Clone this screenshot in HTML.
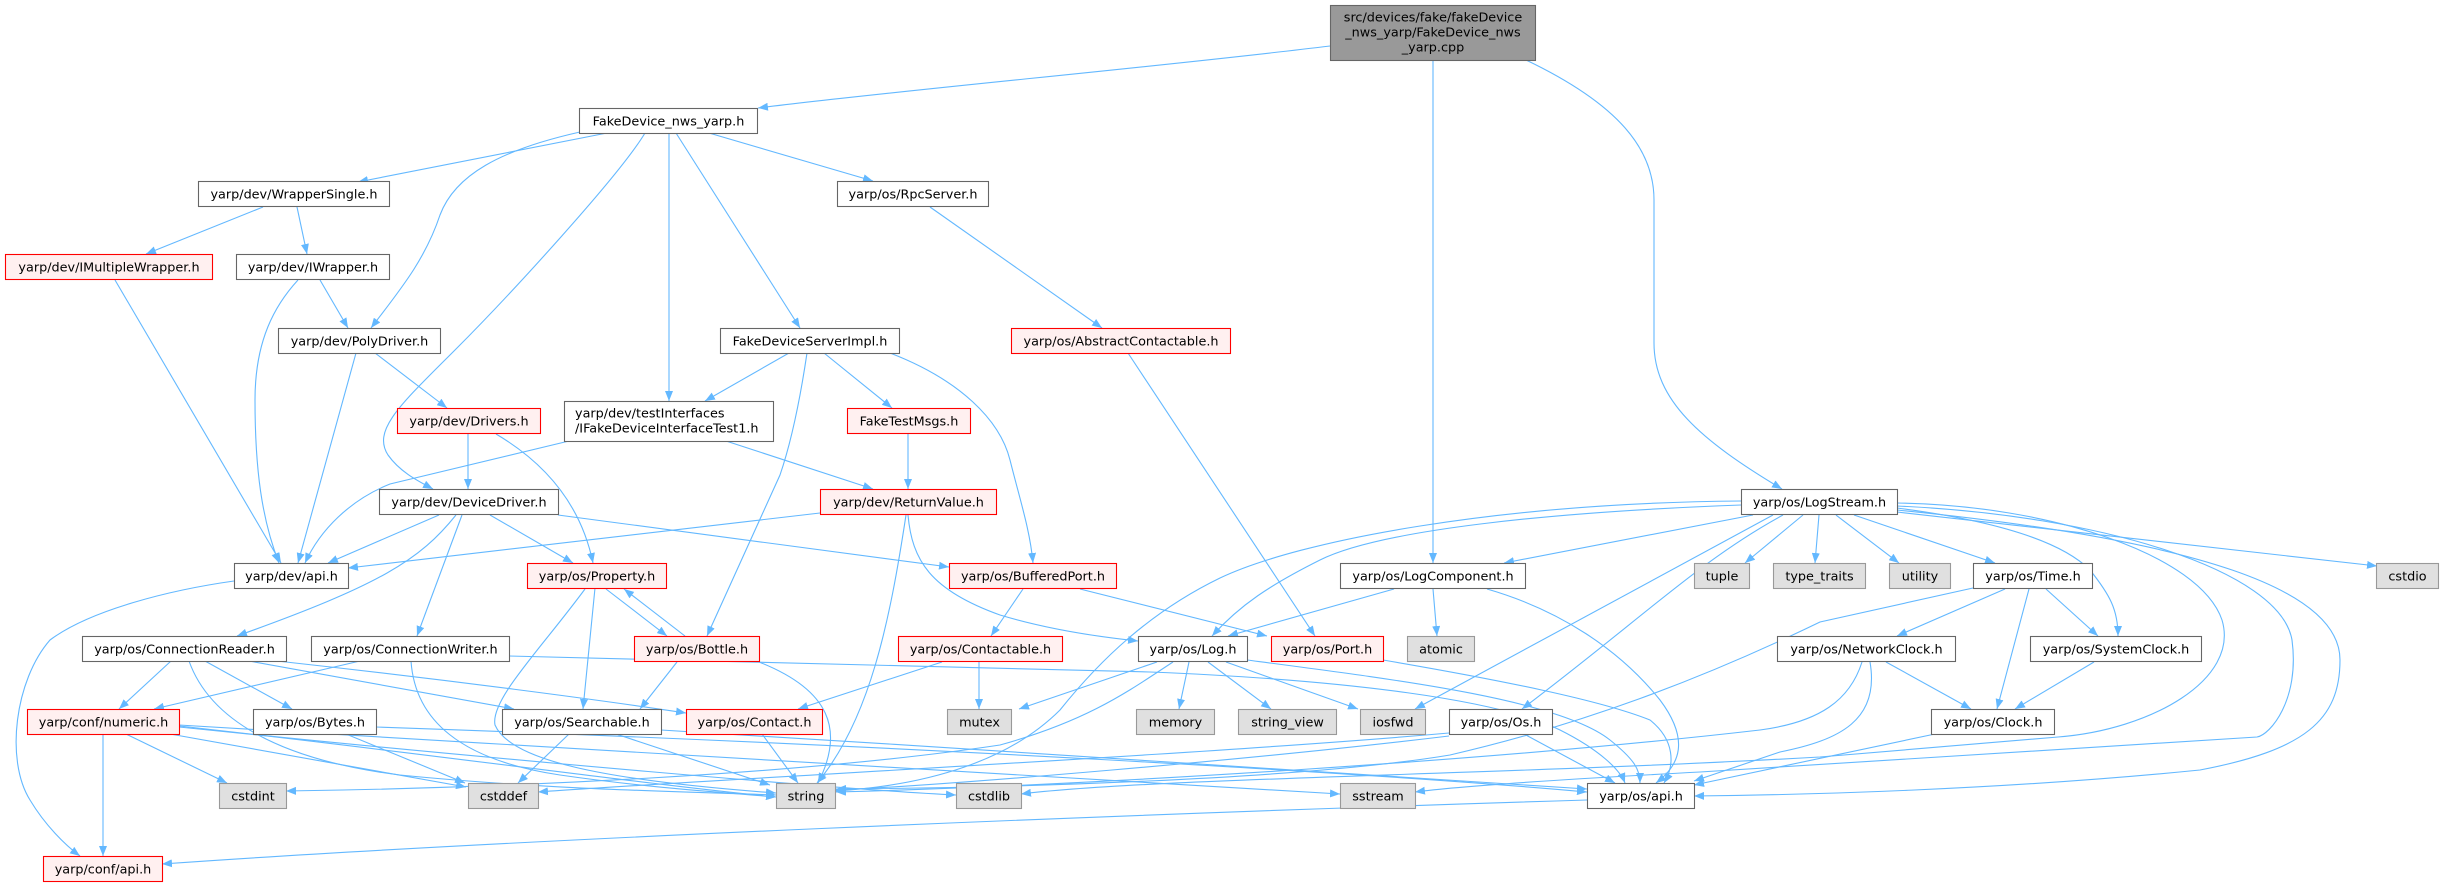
<!DOCTYPE html>
<html><head><meta charset="utf-8">
<style>
html,body{margin:0;padding:0;background:#fff;}
svg{display:block;}
.e{fill:none;stroke:#63b8ff;stroke-width:1.1;marker-end:url(#a);}
.n{fill:#fff;stroke:#666;stroke-width:1.1;}
.r{fill:#fff0f0;stroke:#f00;stroke-width:1.1;}
.g{fill:#e0e0e0;stroke:#999;stroke-width:1.1;}
.t{fill:#999;stroke:#666;stroke-width:1.1;}
text{font-family:"DejaVu Sans","Liberation Sans",sans-serif;font-size:12.8px;fill:#000;text-anchor:middle;}
text.l{text-anchor:start;}
</style></head>
<body>
<svg width="2443" height="887" viewBox="0 0 2443 887" xmlns="http://www.w3.org/2000/svg">
<defs>
<marker id="a" viewBox="0 0 10 8" refX="10" refY="4" markerWidth="10" markerHeight="8" markerUnits="userSpaceOnUse" orient="auto"><path d="M0,0 L10,4 L0,8 z" fill="#63b8ff"/></marker>
</defs>
<g>
<path class="e" d="M1330,46 C1150,68 900,90 758,108"/>
<path class="e" d="M1433,60 V563"/>
<path class="e" d="M1526,60 C1620,105 1654,150 1654,200 L1654,343 C1654,400 1700,440 1782,489"/>
<path class="e" d="M607,133 L358,182"/>
<path class="e" d="M580,132 C500,150 455,175 440,215 C425,260 400,290 371,328"/>
<path class="e" d="M645,133 C620,175 510,295 455,350 C400,405 372,430 388,455 C400,472 418,481 433,489"/>
<path class="e" d="M669,133 V401"/>
<path class="e" d="M676,133 L800,328"/>
<path class="e" d="M709,133 L873,181"/>
<path class="e" d="M263,207 L146,254"/>
<path class="e" d="M297,207 L307,254"/>
<path class="e" d="M930,207 L1102,328"/>
<path class="e" d="M115,280 L281,563"/>
<path class="e" d="M320,280 L348,328"/>
<path class="e" d="M298,280 C275,305 255,340 255,400 C255,470 262,520 279,563"/>
<path class="e" d="M356,353 L298,563"/>
<path class="e" d="M375,353 L447,408"/>
<path class="e" d="M789,353 L705,401"/>
<path class="e" d="M824,353 L892,408"/>
<path class="e" d="M807,353 C800,400 792,440 780,475 L707,636"/>
<path class="e" d="M890,353 C960,380 1000,420 1010,460 C1020,500 1030,530 1033,563"/>
<path class="e" d="M1128,353 L1315,636"/>
<path class="e" d="M468,434 V489"/>
<path class="e" d="M496,434 C540,460 580,500 593,563"/>
<path class="e" d="M569,441 L390,484 C350,500 320,530 305,563"/>
<path class="e" d="M726,441 L873,489"/>
<path class="e" d="M908,434 V489"/>
<path class="e" d="M439,515 L328,563"/>
<path class="e" d="M490,515 L573,563"/>
<path class="e" d="M456,515 C420,560 380,585 237,636"/>
<path class="e" d="M462,515 L417,636"/>
<path class="e" d="M558,515 L949,567"/>
<path class="e" d="M820,513 L348,568"/>
<path class="e" d="M906,515 C890,620 870,720 817,783"/>
<path class="e" d="M908,515 C912,560 930,590 1000,615 C1050,630 1100,637 1138,641"/>
<path class="e" d="M1753,515 L1504,563"/>
<path class="e" d="M1741,505 C1550,512 1380,530 1320,560 C1270,585 1240,605 1212,636"/>
<path class="e" d="M1741,501 C1500,503 1300,540 1220,578 C1150,612 1100,660 1060,710 C1010,760 930,785 836,791"/>
<path class="e" d="M1803,515 L1745,563"/>
<path class="e" d="M1819,515 L1815,563"/>
<path class="e" d="M1836,515 L1899,563"/>
<path class="e" d="M1854,515 L1995,563"/>
<path class="e" d="M1897,508 C1990,520 2060,540 2090,570 C2110,595 2118,610 2118,636"/>
<path class="e" d="M1897,512 L2377,566"/>
<path class="e" d="M1773,515 L1415,709"/>
<path class="e" d="M1783,515 C1700,560 1640,620 1522,709"/>
<path class="e" d="M1897,503 C2050,505 2200,555 2222,620 C2240,680 2150,730 2058,737 L1820,757 C1500,775 1150,778 1021,794"/>
<path class="e" d="M1897,506 C2100,515 2280,570 2292,640 C2300,700 2270,735 2257,737 L1700,772 C1550,780 1460,786 1415,792"/>
<path class="e" d="M1897,510 C2200,540 2340,590 2340,660 C2340,720 2305,750 2200,770 C2000,790 1800,795 1694,796"/>
<path class="e" d="M234,581 C170,590 90,610 50,640 C15,680 5,760 30,800 C45,825 65,845 80,856"/>
<path class="e" d="M595,588 L583,709"/>
<path class="e" d="M606,589 L667,636"/>
<path class="e" d="M685,636 L624,589"/>
<path class="e" d="M585,589 C540,650 490,700 495,725 C510,760 600,780 776,793"/>
<path class="e" d="M1023,589 L991,636"/>
<path class="e" d="M1080,589 L1267,636"/>
<path class="e" d="M1394,589 L1228,636"/>
<path class="e" d="M1433,589 L1437,636"/>
<path class="e" d="M1487,589 C1560,610 1620,650 1660,700 C1690,740 1680,765 1656,783"/>
<path class="e" d="M2005,589 L1897,636"/>
<path class="e" d="M2046,589 L2098,636"/>
<path class="e" d="M2029,589 L1997,709"/>
<path class="e" d="M1973,588 L1820,622 C1700,680 1580,725 1450,755 C1300,780 1000,788 836,789"/>
<path class="e" d="M171,661 L119,709"/>
<path class="e" d="M205,661 L292,709"/>
<path class="e" d="M249,661 L514,709"/>
<path class="e" d="M277,661 C450,680 600,700 686,713"/>
<path class="e" d="M189,661 C210,720 280,760 400,775 C550,790 700,792 776,795"/>
<path class="e" d="M360,661 L154,709"/>
<path class="e" d="M411,661 C415,720 460,760 560,775 C650,788 720,792 776,797"/>
<path class="e" d="M509,656 L1150,672 C1350,680 1500,700 1560,730 C1600,750 1620,770 1625,783"/>
<path class="e" d="M677,662 L640,709"/>
<path class="e" d="M759,662 C830,690 845,730 818,783"/>
<path class="e" d="M942,662 L798,709"/>
<path class="e" d="M979,662 V709"/>
<path class="e" d="M1157,662 L1019,709"/>
<path class="e" d="M1189,662 L1179,709"/>
<path class="e" d="M1208,662 L1271,709"/>
<path class="e" d="M1226,662 L1358,709"/>
<path class="e" d="M1173,662 C1130,690 1090,720 1000,745 C800,775 500,788 286,791"/>
<path class="e" d="M1247,660 C1400,680 1560,700 1610,740 C1635,760 1640,770 1640,783"/>
<path class="e" d="M1383,660 C1500,680 1600,700 1650,720 C1675,740 1675,765 1664,783"/>
<path class="e" d="M1886,662 L1971,709"/>
<path class="e" d="M1870,662 C1880,720 1840,740 1780,752 L1694,781"/>
<path class="e" d="M1862,662 C1850,700 1820,722 1760,730 C1500,760 1100,785 836,792"/>
<path class="e" d="M2094,662 L2015,709"/>
<path class="e" d="M103,734 V856"/>
<path class="e" d="M126,734 L227,783"/>
<path class="e" d="M170,734 L466,787"/>
<path class="e" d="M179,726 C400,750 650,785 776,797"/>
<path class="e" d="M179,727 C500,760 850,790 956,795"/>
<path class="e" d="M179,725 C600,750 1100,780 1340,794"/>
<path class="e" d="M346,734 L465,783"/>
<path class="e" d="M376,727 C900,745 1400,775 1587,792"/>
<path class="e" d="M569,734 L518,783"/>
<path class="e" d="M616,734 L770,785"/>
<path class="e" d="M661,730 C1000,750 1400,778 1587,789"/>
<path class="e" d="M762,734 L798,783"/>
<path class="e" d="M1524,734 L1615,783"/>
<path class="e" d="M1449,733 C1200,755 700,780 538,792"/>
<path class="e" d="M1449,736 C1250,760 950,785 836,790"/>
<path class="e" d="M1935,734 L1694,785"/>
<path class="e" d="M1587,800 C1100,815 500,840 162,864"/>
</g>
<g>
<rect class="t" x="1330.5" y="5.5" width="205" height="55"/>
<text x="1433" y="21.5">src/devices/fake/fakeDevice</text>
<text x="1433" y="36.5">_nws_yarp/FakeDevice_nws</text>
<text x="1433" y="51.5">_yarp.cpp</text>

<rect class="n" x="579.5" y="108.5" width="178" height="25"/><text x="668.5" y="125.5">FakeDevice_nws_yarp.h</text>
<rect class="n" x="198.5" y="181.5" width="191" height="25"/><text x="294" y="198.5">yarp/dev/WrapperSingle.h</text>
<rect class="n" x="837.5" y="181.5" width="151" height="25"/><text x="913" y="198.5">yarp/os/RpcServer.h</text>
<rect class="r" x="5.5" y="254.5" width="207" height="25"/><text x="109" y="271.5">yarp/dev/IMultipleWrapper.h</text>
<rect class="n" x="236.5" y="254.5" width="153" height="25"/><text x="313" y="271.5">yarp/dev/IWrapper.h</text>
<rect class="n" x="278.5" y="328.5" width="162" height="25"/><text x="359.5" y="345.5">yarp/dev/PolyDriver.h</text>
<rect class="n" x="720.5" y="328.5" width="179" height="25"/><text x="810" y="345.5">FakeDeviceServerImpl.h</text>
<rect class="r" x="1011.5" y="328.5" width="219" height="25"/><text x="1121" y="345.5">yarp/os/AbstractContactable.h</text>
<rect class="r" x="397.5" y="408.5" width="143" height="25"/><text x="469" y="425.5">yarp/dev/Drivers.h</text>
<rect class="n" x="564.5" y="401.5" width="209" height="40"/>
<text class="l" x="575" y="417.5">yarp/dev/testInterfaces</text>
<text class="l" x="575" y="432.5">/IFakeDeviceInterfaceTest1.h</text>
<rect class="r" x="847.5" y="408.5" width="123" height="25"/><text x="909" y="425.5">FakeTestMsgs.h</text>
<rect class="n" x="379.5" y="489.5" width="179" height="25"/><text x="469" y="506.5">yarp/dev/DeviceDriver.h</text>
<rect class="r" x="820.5" y="489.5" width="176" height="25"/><text x="908.5" y="506.5">yarp/dev/ReturnValue.h</text>
<rect class="n" x="1741.5" y="489.5" width="156" height="25"/><text x="1819.5" y="506.5">yarp/os/LogStream.h</text>

<rect class="n" x="234.5" y="563.5" width="114" height="25"/><text x="291.5" y="580.5">yarp/dev/api.h</text>
<rect class="r" x="527.5" y="563.5" width="139" height="25"/><text x="597" y="580.5">yarp/os/Property.h</text>
<rect class="r" x="949.5" y="563.5" width="167" height="25"/><text x="1033" y="580.5">yarp/os/BufferedPort.h</text>
<rect class="n" x="1340.5" y="563.5" width="185" height="25"/><text x="1433" y="580.5">yarp/os/LogComponent.h</text>
<rect class="g" x="1694.5" y="563.5" width="55" height="25"/><text x="1722" y="580.5">tuple</text>
<rect class="g" x="1773.5" y="563.5" width="92" height="25"/><text x="1819.5" y="580.5">type_traits</text>
<rect class="g" x="1889.5" y="563.5" width="61" height="25"/><text x="1920" y="580.5">utility</text>
<rect class="n" x="1973.5" y="563.5" width="119" height="25"/><text x="2033" y="580.5">yarp/os/Time.h</text>
<rect class="g" x="2376.5" y="563.5" width="62" height="25"/><text x="2407.5" y="580.5">cstdio</text>

<rect class="n" x="82.5" y="636.5" width="204" height="25"/><text x="184.5" y="653.5">yarp/os/ConnectionReader.h</text>
<rect class="n" x="311.5" y="636.5" width="198" height="25"/><text x="410.5" y="653.5">yarp/os/ConnectionWriter.h</text>
<rect class="r" x="634.5" y="636.5" width="125" height="25"/><text x="697" y="653.5">yarp/os/Bottle.h</text>
<rect class="r" x="898.5" y="636.5" width="164" height="25"/><text x="980.5" y="653.5">yarp/os/Contactable.h</text>
<rect class="n" x="1138.5" y="636.5" width="109" height="25"/><text x="1193" y="653.5">yarp/os/Log.h</text>
<rect class="r" x="1271.5" y="636.5" width="112" height="25"/><text x="1327.5" y="653.5">yarp/os/Port.h</text>
<rect class="g" x="1407.5" y="636.5" width="67" height="25"/><text x="1441" y="653.5">atomic</text>
<rect class="n" x="1777.5" y="636.5" width="178" height="25"/><text x="1866.5" y="653.5">yarp/os/NetworkClock.h</text>
<rect class="n" x="2030.5" y="636.5" width="171" height="25"/><text x="2116" y="653.5">yarp/os/SystemClock.h</text>

<rect class="r" x="27.5" y="709.5" width="152" height="25"/><text x="103.5" y="726.5">yarp/conf/numeric.h</text>
<rect class="n" x="253.5" y="709.5" width="123" height="25"/><text x="315" y="726.5">yarp/os/Bytes.h</text>
<rect class="n" x="502.5" y="709.5" width="159" height="25"/><text x="582" y="726.5">yarp/os/Searchable.h</text>
<rect class="r" x="686.5" y="709.5" width="136" height="25"/><text x="754.5" y="726.5">yarp/os/Contact.h</text>
<rect class="g" x="947.5" y="709.5" width="64" height="25"/><text x="979.5" y="726.5">mutex</text>
<rect class="g" x="1136.5" y="709.5" width="78" height="25"/><text x="1175.5" y="726.5">memory</text>
<rect class="g" x="1238.5" y="709.5" width="98" height="25"/><text x="1287.5" y="726.5">string_view</text>
<rect class="g" x="1360.5" y="709.5" width="65" height="25"/><text x="1393" y="726.5">iosfwd</text>
<rect class="n" x="1449.5" y="709.5" width="103" height="25"/><text x="1501" y="726.5">yarp/os/Os.h</text>
<rect class="n" x="1931.5" y="709.5" width="123" height="25"/><text x="1993" y="726.5">yarp/os/Clock.h</text>

<rect class="g" x="219.5" y="783.5" width="67" height="25"/><text x="253" y="800.5">cstdint</text>
<rect class="g" x="468.5" y="783.5" width="70" height="25"/><text x="503.5" y="800.5">cstddef</text>
<rect class="g" x="776.5" y="783.5" width="59" height="25"/><text x="806" y="800.5">string</text>
<rect class="g" x="956.5" y="783.5" width="65" height="25"/><text x="989" y="800.5">cstdlib</text>
<rect class="g" x="1340.5" y="783.5" width="75" height="25"/><text x="1378" y="800.5">sstream</text>
<rect class="n" x="1587.5" y="783.5" width="107" height="25"/><text x="1641" y="800.5">yarp/os/api.h</text>

<rect class="r" x="43.5" y="856.5" width="119" height="25"/><text x="103" y="873.5">yarp/conf/api.h</text>
</g>
</svg>
</body></html>
